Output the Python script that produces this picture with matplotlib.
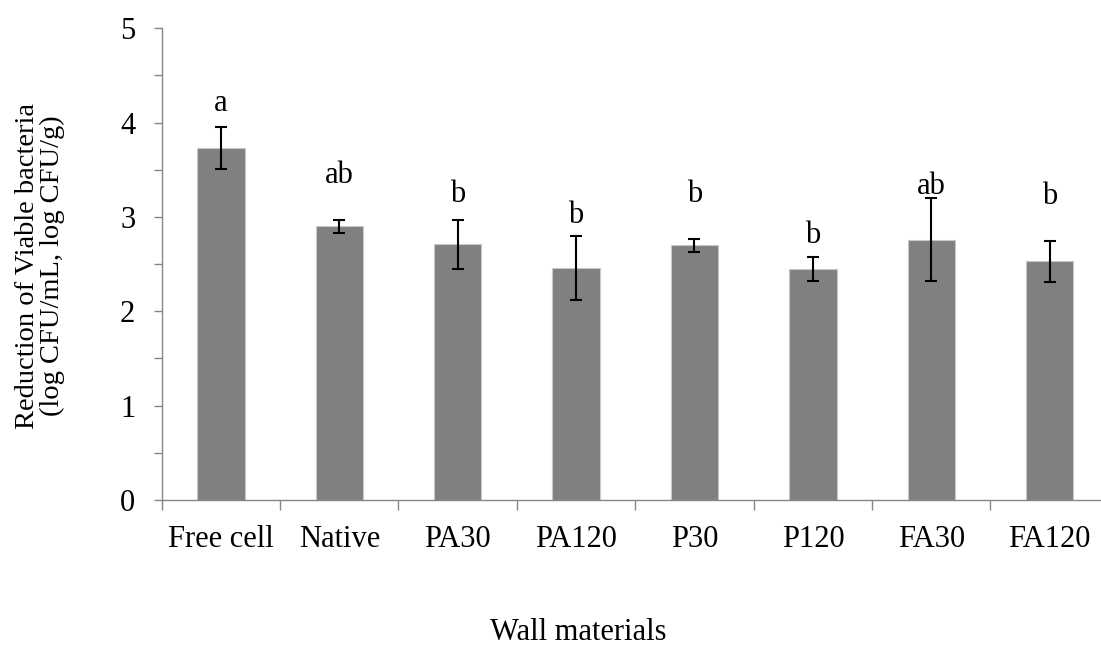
import numpy as np
import matplotlib
matplotlib.use("Agg")
import matplotlib.pyplot as plt
from matplotlib.ticker import MultipleLocator

plt.rcParams['font.family'] = ['Liberation Serif', 'DejaVu Serif']

# --- Data ---
materials = ["Free cell", "Native", "PA30", "PA120", "P30", "P120", "FA30", "FA120"]
reduction = [3.73, 2.90, 2.71, 2.46, 2.70, 2.45, 2.76, 2.53]
sd = [0.22, 0.07, 0.26, 0.34, 0.07, 0.13, 0.44, 0.22]
letters = ["a", "ab", "b", "b", "b", "b", "ab", "b"]
letter_y = [4.12, 3.36, 3.16, 2.94, 3.16, 2.72, 3.24, 3.14]

FS = 22
W, H = 1101, 648
fig = plt.figure(figsize=(W / 100, H / 100), dpi=100)
# axes box in pixels: x 161.7 -> 1108.9, y 28.3 (top) -> 500 (bottom)
ax = fig.add_axes([161.7 / W, 1 - 500 / H, (1108.9 - 161.7) / W, (500 - 28.3) / H])

x = np.arange(len(materials))
ax.bar(x, reduction, width=0.4, color="#808080", edgecolor="#c8c8c8", linewidth=0.8, zorder=2)
ax.errorbar(x, reduction, yerr=sd, fmt="none", ecolor="black", elinewidth=1.5,
            capsize=4.2, capthick=1.5, zorder=3)

for xi, lab, ly in zip(x, letters, letter_y):
    ax.text(xi, ly, lab, ha="center", va="baseline", fontsize=FS)

ax.set_xlim(-0.5, len(materials) - 0.5)
ax.set_ylim(0, 5)

axis_grey = "#868686"
for side in ["top", "right"]:
    ax.spines[side].set_visible(False)
for side in ["left", "bottom"]:
    ax.spines[side].set_color(axis_grey)
    ax.spines[side].set_linewidth(1.0)

ax.yaxis.set_major_locator(MultipleLocator(1))
ax.yaxis.set_minor_locator(MultipleLocator(0.5))
ax.tick_params(axis="y", which="both", direction="out", length=6, width=1.0,
               color=axis_grey, labelsize=FS, pad=13)

# category boundaries as ticks, labels centred under bars
ax.set_xticks(np.arange(-0.5, len(materials) - 0.4, 1.0))
ax.set_xticklabels([])
ax.set_xticks(x, minor=True)
ax.set_xticklabels(materials, minor=True, fontsize=FS)
ax.tick_params(axis="x", which="major", direction="out", length=7, width=1.0, color=axis_grey)
ax.tick_params(axis="x", which="minor", length=0, pad=18)

fig.text(40 / W, 1 - 266 / H, "Reduction of Viable bacteria\n(log CFU/mL, log CFU/g)",
         rotation=90, ha="center", va="center", fontsize=20.5, linespacing=0.95)
fig.text(578 / W, 1 - 632 / H, "Wall materials", ha="center", va="center", fontsize=FS)

fig.savefig("out.png", dpi=100)
